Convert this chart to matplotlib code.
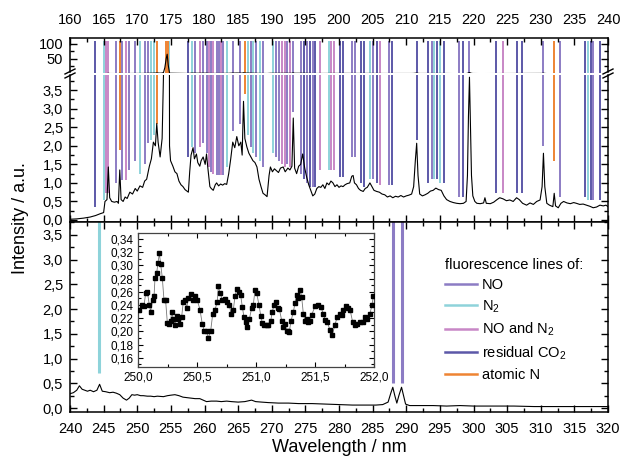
import matplotlib
matplotlib.use('Agg')
import matplotlib.pyplot as plt
from matplotlib.ticker import MultipleLocator, FuncFormatter
from matplotlib.patches import ConnectionPatch
from matplotlib.lines import Line2D

plt.rcParams['font.family'] = ['Liberation Sans', 'DejaVu Sans']
plt.rcParams['mathtext.fontset'] = 'custom'
plt.rcParams['mathtext.rm'] = 'Liberation Sans'
plt.rcParams['mathtext.it'] = 'Liberation Sans:italic'

# ---------------- data ----------------
top_x = [160.0, 161.0, 162.0, 163.0, 163.8, 164.5, 165.0, 165.2, 165.5, 165.7, 165.9, 166.2, 166.6, 167.0,
         167.2, 167.4, 167.6, 167.9, 168.2, 168.5, 168.9, 169.3, 169.7, 170.0, 170.4, 170.8, 171.1, 171.4,
         171.8, 172.1, 172.4, 172.7, 172.9, 173.1, 173.4, 173.7, 173.9, 174.1, 174.3, 174.45, 174.6, 174.8,
         174.95, 175.3, 175.6, 175.9, 176.2, 176.5, 176.8, 177.1, 177.4, 177.6, 177.8, 178.0, 178.3, 178.5,
         178.8, 179.0, 179.3, 179.5, 179.8, 180.1, 180.3, 180.5, 180.8, 181.0, 181.3, 181.6, 181.8, 182.1,
         182.4, 182.7, 183.0, 183.3, 183.6, 183.9, 184.2, 184.5, 184.8, 185.1, 185.4, 185.6, 185.8, 186.0,
         186.3, 186.6, 186.9, 187.2, 187.5, 187.8, 188.1, 188.4, 188.7, 189.0, 189.3, 189.6, 189.8, 190.1,
         190.4, 190.7, 191.0, 191.3, 191.7, 192.0, 192.4, 192.7, 193.0, 193.2, 193.4, 193.7, 194.0, 194.3,
         194.6, 194.9, 195.2, 195.5, 195.8, 196.1, 196.4, 196.7, 197.0, 197.3, 197.6, 197.9, 198.2, 198.5,
         198.8, 199.1, 199.4, 199.7, 200.0, 200.3, 200.6, 200.9, 201.2, 201.6, 201.9, 202.1, 202.3, 202.6,
         202.9, 203.2, 203.6, 203.9, 204.2, 204.6, 204.9, 205.2, 205.6, 206.0, 206.4, 206.8, 207.2, 207.6,
         208.0, 208.4, 208.8, 209.2, 209.6, 210.0, 210.4, 210.8, 211.1, 211.35, 211.55, 211.75, 212.0, 212.4,
         212.8, 213.2, 213.6, 214.0, 214.4, 214.8, 215.2, 215.6, 216.0, 216.5, 217.0, 217.5, 218.0, 218.5,
         218.9, 219.1, 219.25, 219.4, 219.55, 219.7, 219.9, 220.2, 220.5, 221.0, 221.5, 221.7, 221.9, 222.5,
         223.0, 223.5, 223.9, 224.4, 224.9, 225.4, 225.9, 226.4, 226.8, 227.3, 227.9, 228.4, 228.9, 229.4,
         229.9, 230.2, 230.4, 230.6, 230.9, 231.3, 231.8, 232.0, 232.2, 232.6, 233.0, 233.4, 233.9, 234.4,
         234.9, 235.3, 235.8, 236.3, 236.8, 237.3, 237.8, 238.3, 238.8, 239.3, 239.7, 240.0]
top_y = [0.02, 0.03, 0.05, 0.08, 0.12, 0.17, 0.2, 0.5, 0.55, 1.43, 0.6, 0.5, 0.48, 0.5,
         0.45, 1.35, 0.55, 0.5, 0.62, 0.58, 0.75, 0.7, 0.85, 0.78, 0.92, 0.88, 1.05, 1.1,
         1.45, 1.65, 2.1, 2.0, 2.6, 2.1, 1.7, 2.2, 3.9, 20.0, 50.0, 65.0, 30.0, 2.0,
         1.6, 1.45, 1.3, 1.25, 1.05, 0.95, 0.9, 0.82, 0.78, 0.75, 1.3, 1.75, 1.95, 1.65,
         1.78, 1.55, 1.45, 1.6, 1.7, 1.5, 1.78, 1.4, 0.9, 0.85, 0.8, 0.95, 1.0, 0.92,
         0.97, 0.94, 0.98, 0.96, 1.25, 1.65, 2.1, 1.95, 2.25, 2.0, 2.1, 1.75, 3.2, 2.2,
         1.97, 1.8, 1.7, 1.6, 1.55, 1.43, 1.1, 0.9, 0.72, 0.68, 0.63, 1.2, 1.43, 1.3,
         1.38, 1.33, 1.28, 1.4, 1.43, 1.3, 1.4, 1.35, 1.45, 2.75, 1.4, 1.25, 1.45, 1.5,
         1.78, 1.4, 1.15, 0.95, 0.8, 0.65, 0.7, 0.85, 0.9, 0.88, 0.95, 0.85, 1.0, 0.95,
         1.05, 1.0, 0.9, 0.95, 0.88, 0.92, 0.9, 0.95, 0.98, 1.0, 1.18, 1.2, 1.0, 0.95,
         0.85, 0.8, 0.77, 0.85, 0.88, 1.0, 0.9, 0.8, 0.77, 0.75, 0.7, 0.68, 0.62, 0.65,
         0.6, 0.64, 0.62, 0.66, 0.62, 0.65, 0.67, 0.7, 0.9, 1.6, 2.07, 1.2, 0.7, 0.65,
         0.68, 0.72, 0.78, 0.8, 0.86, 0.82, 0.8, 0.65, 0.55, 0.5, 0.47, 0.45, 0.44, 0.45,
         0.5, 1.2, 2.8, 3.85, 2.5, 1.2, 0.65, 0.5, 0.45, 0.44, 0.46, 0.6, 0.45, 0.44,
         0.48, 0.55, 0.6, 0.57, 0.52, 0.54, 0.5, 0.6, 0.55, 0.45, 0.4, 0.46, 0.42, 0.5,
         0.54, 0.9, 1.8, 0.9, 0.45, 0.4, 0.36, 0.72, 0.38, 0.33, 0.45, 0.5, 0.46, 0.44,
         0.47, 0.45, 0.42, 0.43, 0.4, 0.37, 0.33, 0.35, 0.4, 0.38, 0.4, 0.36]

bot_x = [240.0, 240.5, 241.0, 241.4, 241.8, 242.2, 242.6, 243.0, 243.5, 244.0, 244.4, 244.8, 245.3, 245.9,
         246.4, 246.9, 247.4, 247.9, 248.4, 248.8, 249.2, 249.6, 250.0, 250.5, 250.9, 251.5, 252.0, 252.5,
         253.0, 253.9, 254.5, 255.0, 255.6, 256.2, 256.8, 257.4, 258.0, 258.6, 259.3, 259.8, 260.3, 261.0,
         261.8, 262.5, 263.3, 264.0, 265.0, 266.0, 267.0, 267.6, 268.5, 269.5, 271.0, 272.5, 274.0, 276.0,
         278.0, 280.0, 282.0, 284.0, 285.5, 286.5, 287.3, 287.7, 288.0, 288.3, 288.6, 288.9, 289.3, 289.6,
         289.9, 290.5, 292.0, 294.0, 296.0, 298.0, 300.0, 303.0, 306.0, 309.0, 312.0, 315.0, 318.0, 320.0]
bot_y = [0.29, 0.31, 0.36, 0.45, 0.38, 0.36, 0.34, 0.36, 0.33, 0.36, 0.48, 0.34, 0.33, 0.31,
         0.32, 0.30, 0.27, 0.2, 0.16, 0.2, 0.27, 0.26, 0.27, 0.25, 0.25, 0.24, 0.24, 0.23,
         0.24, 0.23, 0.25, 0.26, 0.27, 0.25, 0.22, 0.21, 0.2, 0.19, 0.19, 0.16, 0.13, 0.14,
         0.14, 0.13, 0.14, 0.13, 0.12, 0.13, 0.16, 0.13, 0.12, 0.11, 0.10, 0.10, 0.09, 0.09,
         0.08, 0.07, 0.06, 0.06, 0.06, 0.07, 0.12, 0.3, 0.42, 0.25, 0.1, 0.25, 0.42, 0.25,
         0.08, 0.05, 0.05, 0.05, 0.04, 0.05, 0.04, 0.04, 0.04, 0.03, 0.03, 0.03, 0.03, 0.03]

inset_x = [250.011, 250.031, 250.051, 250.065, 250.079, 250.096, 250.107, 250.124, 250.136, 250.144,
           250.158, 250.169, 250.181, 250.192, 250.206, 250.220, 250.234, 250.249, 250.263, 250.277,
           250.285, 250.299, 250.314, 250.328, 250.342, 250.356, 250.370, 250.384, 250.398, 250.412,
           250.427, 250.446, 250.463, 250.483, 250.503, 250.525, 250.545, 250.562, 250.582, 250.596,
           250.616, 250.633, 250.653, 250.672, 250.681, 250.695, 250.715, 250.737, 250.757, 250.774,
           250.788, 250.808, 250.822, 250.836, 250.856, 250.870, 250.884, 250.898, 250.915, 250.927,
           250.944, 250.963, 250.977, 250.992, 251.006, 251.025, 251.040, 251.054, 251.071, 251.090,
           251.104, 251.124, 251.138, 251.153, 251.167, 251.184, 251.198, 251.218, 251.232, 251.246,
           251.260, 251.274, 251.282, 251.297, 251.316, 251.331, 251.345, 251.359, 251.373, 251.387,
           251.401, 251.415, 251.429, 251.443, 251.458, 251.472, 251.500, 251.528, 251.548, 251.571,
           251.585, 251.604, 251.627, 251.647, 251.669, 251.689, 251.712, 251.726, 251.740, 251.760,
           251.782, 251.797, 251.819, 251.839, 251.859, 251.881, 251.904, 251.924, 251.944, 251.966,
           251.983, 251.994]
inset_y = [0.233, 0.240, 0.239, 0.258, 0.260, 0.240, 0.230, 0.248, 0.253, 0.281,
           0.288, 0.303, 0.318, 0.302, 0.281, 0.248, 0.247, 0.212, 0.211, 0.216,
           0.230, 0.219, 0.210, 0.224, 0.219, 0.211, 0.222, 0.245, 0.248, 0.235,
           0.250, 0.256, 0.248, 0.253, 0.247, 0.233, 0.211, 0.201, 0.200, 0.190,
           0.201, 0.226, 0.233, 0.245, 0.269, 0.258, 0.248, 0.249, 0.245, 0.240,
           0.227, 0.233, 0.253, 0.264, 0.260, 0.255, 0.237, 0.222, 0.214, 0.207,
           0.219, 0.235, 0.240, 0.263, 0.258, 0.240, 0.224, 0.212, 0.210, 0.210,
           0.210, 0.215, 0.230, 0.240, 0.245, 0.235, 0.234, 0.216, 0.207, 0.211,
           0.200, 0.200, 0.199, 0.216, 0.229, 0.243, 0.255, 0.250, 0.263, 0.252,
           0.227, 0.216, 0.219, 0.214, 0.216, 0.225, 0.238, 0.240, 0.237, 0.227,
           0.217, 0.214, 0.202, 0.195, 0.210, 0.222, 0.227, 0.225, 0.233, 0.238,
           0.235, 0.233, 0.214, 0.210, 0.211, 0.214, 0.214, 0.222, 0.219, 0.227,
           0.240, 0.253]

# fluorescence line positions (nm), species and lower end of the drawn line (a.u.)
line_pos = [163.7, 165.0, 165.4, 165.7, 166.9, 167.4, 167.8, 168.3, 168.8, 169.7, 170.4, 171.2, 171.6,
            172.1, 172.5, 172.9, 174.3, 174.5, 174.7, 177.6, 178.1, 178.6, 179.3, 179.8, 180.3, 180.6,
            180.9, 181.2, 181.8, 182.2, 182.5, 182.8, 183.3, 184.3, 185.3, 186.0, 186.5, 186.9, 187.2,
            187.7, 188.2, 188.7, 190.2, 190.7, 191.1, 191.5, 191.9, 192.3, 192.7, 193.2, 194.4, 194.8,
            195.2, 195.7, 196.1, 196.5, 197.2, 198.5, 198.8, 199.3, 200.2, 200.6, 202.0, 202.4, 203.2,
            203.7, 204.6, 205.1, 205.6, 206.1, 207.4, 207.9, 211.55, 213.2, 213.8, 214.2, 214.5, 215.0,
            215.6, 217.9, 218.5, 219.4, 223.4, 224.4, 226.4, 227.2, 230.4, 232.0, 232.8, 236.6, 237.1,
            237.4, 237.8, 238.8,
            244.3, 288.0, 289.3]
line_kind = ['CO2', 'N2', 'NON2', 'NON2', 'NO', 'N', 'NO', 'NON2', 'NO', 'NO', 'N2', 'NO', 'NO',
             'N2', 'N2', 'N', 'N', 'N', 'N2', 'CO2', 'N2', 'NO', 'NON2', 'NO', 'NO', 'NON2',
             'NO', 'NON2', 'NO', 'NO', 'NON2', 'NO', 'N2', 'NO', 'NO', 'N', 'N2', 'NO', 'N2',
             'NO', 'N2', 'NO', 'N2', 'NO', 'NO', 'NON2', 'NON2', 'NO', 'NON2', 'NO', 'NO', 'CO2',
             'NO', 'CO2', 'NO', 'CO2', 'NON2', 'N2', 'NON2', 'NON2', 'CO2', 'CO2', 'NO', 'NO', 'CO2',
             'CO2', 'N2', 'NO', 'CO2', 'NON2', 'NO', 'CO2', 'CO2', 'CO2', 'NO', 'N2', 'CO2', 'N2',
             'CO2', 'NO', 'CO2', 'NO', 'CO2', 'NON2', 'CO2', 'CO2', 'NO', 'N', 'NO', 'CO2', 'N2',
             'CO2', 'NO', 'CO2',
             'N2', 'NO', 'NO']
line_low = [0.35, 0.54, 0.72, 0.72, 1.0, 1.9, 1.08, 1.08, 1.35, 1.6, 1.25, 1.5, 2.07,
            2.15, 2.3, 2.6, 4.5, 4.5, 4.5, 1.7, 1.97, 1.8, 1.97, 2.07, 1.8, 1.43,
            1.3, 1.25, 1.2, 1.2, 1.2, 1.2, 1.43, 2.4, 2.6, 3.4, 2.3, 1.97, 1.8,
            1.7, 1.6, 1.43, 1.8, 1.7, 1.6, 1.5, 1.43, 1.5, 1.43, 2.9, 1.25, 1.1,
            1.0, 0.9, 0.9, 0.9, 1.35, 1.35, 1.35, 1.35, 1.17, 1.17, 1.7, 1.7, 1.0,
            0.9, 1.1, 1.1, 1.0, 0.95, 0.95, 0.95, 2.15, 1.0, 1.1, 1.1, 1.1, 1.0,
            1.0, 0.63, 0.63, 3.9, 0.72, 0.72, 0.72, 0.72, 2.0, 1.6, 0.63, 0.63, 0.55,
            0.55, 0.55, 0.55,
            0.7, 0.5, 0.5]

kinds = ['NO', 'N2', 'NON2', 'CO2', 'N']
kind_labels = ['NO', 'N$_2$', 'NO and N$_2$', 'residual CO$_2$', 'atomic N']
kind_colors = ['#8c7cc4', '#8ed3da', '#c887c6', '#5c58a8', '#ee8433']

# ---------------- layout ----------------
W, H = 629, 462
fig = plt.figure(figsize=(W / 100, H / 100), dpi=100)


def rect(x0, y0, x1, y1):
    return [x0 / W, 1 - y1 / H, (x1 - x0) / W, (y1 - y0) / H]


ax_up = fig.add_axes(rect(70, 38, 608, 72.5))
ax_lo = fig.add_axes(rect(70, 75, 608, 222))
ax_b = fig.add_axes(rect(70, 222, 608, 412))
ax_in = fig.add_axes(rect(138, 233, 374, 367))

comma1 = FuncFormatter(lambda v, p: f'{v:.1f}'.replace('.', ','))
comma2 = FuncFormatter(lambda v, p: f'{v:.2f}'.replace('.', ','))
int_fmt = FuncFormatter(lambda v, p: f'{v:.0f}')

FS = 10.5
for ax in (ax_up, ax_lo, ax_b):
    for s in ax.spines.values():
        s.set_linewidth(1.1)
    ax.tick_params(which='both', direction='in', left=True, right=True, top=True, bottom=True,
                   labelsize=FS, width=1.0, pad=5)
    ax.tick_params(which='major', length=5)
    ax.tick_params(which='minor', length=3)
    ax.xaxis.set_major_locator(MultipleLocator(5))
    ax.xaxis.set_minor_locator(MultipleLocator(2.5))
    ax.xaxis.set_major_formatter(int_fmt)

# vertical fluorescence lines
LW = 1.4
for k, c in zip(kinds, kind_colors):
    xs = [p for p, kk in zip(line_pos, line_kind) if kk == k]
    lows = [l for l, kk in zip(line_low, line_kind) if kk == k]
    ax_lo.vlines(xs, lows, 5, colors=c, lw=LW, zorder=1)
    ax_up.vlines(xs, 0, 110, colors=c, lw=LW, zorder=1)
    ax_b.vlines(xs, lows, 5, colors=c, lw=2.2, zorder=1)

# spectra
for ax in (ax_up, ax_lo):
    ax.plot(top_x, top_y, color='black', lw=0.8, zorder=3)
ax_b.plot(bot_x, bot_y, color='black', lw=0.8, zorder=3)

# upper (broken) section
ax_up.set_xlim(160, 240)
ax_up.set_ylim(4, 119)
ax_up.set_yticks([50, 100])
ax_up.yaxis.set_minor_locator(MultipleLocator(25))
ax_up.yaxis.set_major_formatter(int_fmt)
ax_up.spines['bottom'].set_visible(False)
ax_up.tick_params(which='both', bottom=False, labelbottom=False, labeltop=True)
ax_up.tick_params(axis='x', pad=8)

ax_lo.set_xlim(160, 240)
ax_lo.set_ylim(-0.054, 3.91)
ax_lo.yaxis.set_major_locator(MultipleLocator(0.5))
ax_lo.yaxis.set_minor_locator(MultipleLocator(0.25))
ax_lo.yaxis.set_major_formatter(comma1)
ax_lo.spines['top'].set_visible(False)
ax_lo.tick_params(which='both', top=False, labelbottom=False)

ax_b.set_xlim(240, 320)
ax_b.set_ylim(-0.08, 3.76)
ax_b.yaxis.set_major_locator(MultipleLocator(0.5))
ax_b.yaxis.set_minor_locator(MultipleLocator(0.25))
ax_b.yaxis.set_major_formatter(comma1)
ax_b.tick_params(axis='x', pad=7)

# break marks
for xp in (70, 608):
    for yp in (71.5, 75.5):
        fig.add_artist(Line2D([(xp - 5) / W, (xp + 5) / W], [1 - (yp + 2.5) / H, 1 - (yp - 2.5) / H],
                              transform=fig.transFigure, color='black', lw=1.0))

# inset
ax_in.plot(inset_x, inset_y, color='#777777', lw=0.6, zorder=2)
ax_in.plot(inset_x, inset_y, ls='none', marker='s', ms=3.2, color='black', zorder=3)
ax_in.set_xlim(250, 252)
ax_in.set_ylim(0.146, 0.349)
ax_in.xaxis.set_major_locator(MultipleLocator(0.5))
ax_in.xaxis.set_minor_locator(MultipleLocator(0.25))
ax_in.yaxis.set_major_locator(MultipleLocator(0.02))
ax_in.yaxis.set_minor_locator(MultipleLocator(0.01))
ax_in.xaxis.set_major_formatter(comma1)
ax_in.yaxis.set_major_formatter(comma2)
ax_in.tick_params(which='both', direction='in', top=True, right=True, labelsize=8.5, pad=3, width=0.8)
ax_in.tick_params(which='major', length=3.5)
ax_in.tick_params(which='minor', length=2)
for s in ax_in.spines.values():
    s.set_linewidth(0.9)
    s.set_color('#444444')

# connection lines
for (xa, ya), (xb, yb) in (((250.0, 0.1), (250.0, 0.146)), ((251.0, 0.27), (252.0, 0.146))):
    cp = ConnectionPatch(xyA=(xa, ya), coordsA=ax_b.transData, xyB=(xb, yb), coordsB=ax_in.transData,
                         ls=(0, (1.5, 2.5)), lw=1.0, color='black', zorder=0)
    fig.add_artist(cp)

# legend
handles = [Line2D([], [], color=c, lw=1.8) for c in kind_colors]
leg = ax_b.legend(handles, kind_labels, title='fluorescence lines of:', loc='upper left',
                  bbox_to_anchor=(0.697, 0.81), frameon=False, fontsize=FS, title_fontsize=FS,
                  handlelength=2.2, handletextpad=0.35, labelspacing=0.42, borderpad=0,
                  borderaxespad=0, alignment='left')

fig.text(21 / W, 1 - 218 / H, 'Intensity / a.u.', rotation=90, ha='center', va='center', fontsize=13)
fig.text(339 / W, 1 - 448 / H, 'Wavelength / nm', ha='center', va='center', fontsize=13)

fig.savefig('out.png', dpi=100)
